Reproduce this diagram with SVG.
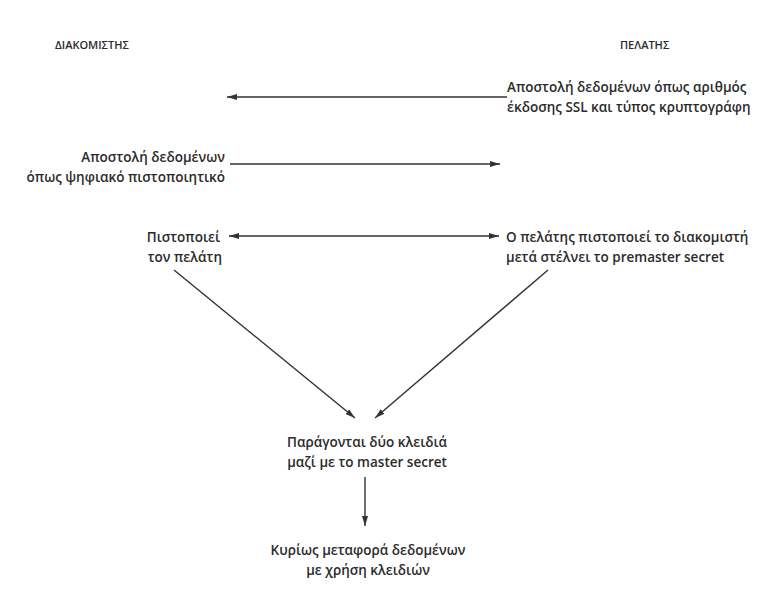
<svg xmlns="http://www.w3.org/2000/svg" width="758" height="601" viewBox="0 0 758 601">
<style>
text{font-family:"Open Sans","Noto Sans","DejaVu Sans",sans-serif;font-weight:600;font-size:13.5px;fill:#2b2b2b}
.h{font-size:11px;font-weight:600}
.r{text-anchor:end}
.m{text-anchor:middle}
.c line{stroke:#333;stroke-width:1.4}
</style>
<defs>
<marker id="ah" viewBox="0 0 10 6" refX="10" refY="3" markerWidth="10" markerHeight="6" markerUnits="userSpaceOnUse" orient="auto-start-reverse">
<path d="M0,0 L10,3 L0,6 Z" fill="#333"/>
</marker>
</defs>
<rect width="758" height="601" fill="#fff"/>
<g id="server-title"><text class="h" x="55" y="49">ΔΙΑΚΟΜΙΣΤΗΣ</text></g>
<g id="client-title"><text class="h" x="620" y="49">ΠΕΛΑΤΗΣ</text></g>
<g id="client-hello">
<text x="507" y="92">Αποστολή δεδομένων όπως αριθμός</text>
<text x="507" y="112">έκδοσης SSL και τύπος κρυπτογράφη</text>
</g>
<g id="server-hello">
<text class="r" x="225" y="162">Αποστολή δεδομένων</text>
<text class="r" x="225" y="182">όπως ψηφιακό πιστοποιητικό</text>
</g>
<g id="server-verify">
<text class="r" x="220" y="242">Πιστοποιεί</text>
<text class="r" x="222" y="262">τον πελάτη</text>
</g>
<g id="client-verify">
<text x="506" y="242">Ο πελάτης πιστοποιεί το διακομιστή</text>
<text x="506" y="262">μετά στέλνει το premaster secret</text>
</g>
<g id="keys">
<text class="m" x="367" y="447">Παράγονται δύο κλειδιά</text>
<text class="m" x="367" y="467">μαζί με το master secret</text>
</g>
<g id="transfer">
<text class="m" x="368" y="555">Κυρίως μεταφορά δεδομένων</text>
<text class="m" x="368" y="575">με χρήση κλειδιών</text>
</g>
<g id="connectors" class="c">
<line x1="507" y1="97" x2="227" y2="97" marker-end="url(#ah)"/>
<line x1="230" y1="164" x2="500" y2="164" marker-end="url(#ah)"/>
<line x1="229" y1="236" x2="499" y2="236" marker-start="url(#ah)" marker-end="url(#ah)"/>
<line x1="174" y1="270" x2="355" y2="418" marker-end="url(#ah)"/>
<line x1="548" y1="270" x2="375" y2="418" marker-end="url(#ah)"/>
<line x1="365" y1="477" x2="365" y2="526" marker-end="url(#ah)"/>
</g>
</svg>
